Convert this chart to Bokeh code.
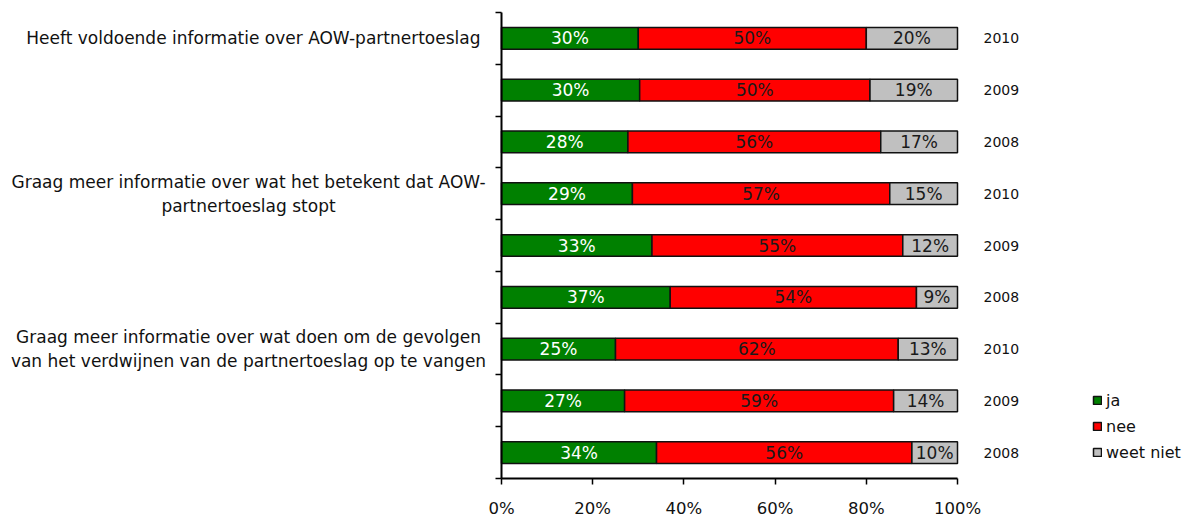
from bokeh.plotting import figure
from bokeh.models import (Range1d, FixedTicker, NumeralTickFormatter, Label,
                          Legend, LegendItem, ColumnDataSource)
from bokeh.core.properties import value
from bokeh.embed import file_html
from bokeh.resources import INLINE

# ---- data ----
years = ["2010", "2009", "2008", "2010", "2009", "2008", "2010", "2009", "2008"]
ja = [30, 30, 28, 29, 33, 37, 25, 27, 34]
nee = [50, 50, 56, 57, 55, 54, 62, 59, 56]
weet_niet = [20, 19, 17, 15, 12, 9, 13, 14, 10]
questions = [
    "Heeft voldoende informatie over AOW-partnertoeslag",
    "Graag meer informatie over wat het betekent dat AOW-\npartnertoeslag stopt",
    "Graag meer informatie over wat doen om de gevolgen\nvan het verdwijnen van de partnertoeslag op te vangen",
]
question_rows = [0, 3, 6]
series_names = ["ja", "nee", "weet niet"]
x_ticks = [0, 0.2, 0.4, 0.6, 0.8, 1.0]

FONT = "DejaVu Sans"
colors = ["#008000", "#FF0000", "#C0C0C0"]
text_colors = ["#FFFFFF", "#1a1a1a", "#1a1a1a"]

W, H = 1191, 516
# plot area (axes box) in canvas pixels
PX0, PX1, PY0, PY1 = 501, 957, 12, 478

n = len(years)
yc = [n - i - 0.5 for i in range(n)]

sx = (PX1 - PX0) / 1.0
sy = (PY1 - PY0) / n
x_range = Range1d(-PX0 / sx, (W - PX0) / sx)
y_range = Range1d(-(H - PY1) / sy, n + PY0 / sy)

p = figure(width=W, height=H, output_backend="svg", toolbar_location=None,
           x_range=x_range, y_range=y_range,
           min_border_left=0, min_border_right=0,
           min_border_top=0, min_border_bottom=0)
p.outline_line_color = None
p.xgrid.visible = False
p.ygrid.visible = False
p.background_fill_color = "white"
p.border_fill_color = "white"

series = [ja, nee, weet_niet]
totals = [a + b + c for a, b, c in zip(ja, nee, weet_niet)]
lefts = [0.0] * n
renderers = []
for s, vals in enumerate(series):
    shares = [v / t for v, t in zip(vals, totals)]
    rights = [l + sh for l, sh in zip(lefts, shares)]
    src = ColumnDataSource(dict(
        y=yc, left=lefts, right=rights,
        mid=[(l + r) / 2 for l, r in zip(lefts, rights)],
        lab=[f"{v}%" for v in vals]))
    r = p.hbar(y="y", left="left", right="right", height=0.42, source=src,
               fill_color=colors[s], line_color="#111111", line_width=1.5)
    renderers.append(r)
    p.text(x="mid", y="y", text="lab", source=src, text_align="center",
           text_baseline="middle", text_font=value(FONT),
           text_font_size="17px", text_color=text_colors[s])
    lefts = rights

# axes (drawn at fixed data locations inside the full-canvas frame)
xa = p.xaxis[0]
xa.fixed_location = 0
xa.bounds = (0, 1)
xa.ticker = FixedTicker(ticks=x_ticks)
xa.formatter = NumeralTickFormatter(format="0%")
xa.axis_line_width = 2
xa.axis_line_color = "black"
xa.major_tick_line_color = "black"
xa.major_tick_line_width = 1.5
xa.major_tick_out = 6
xa.major_tick_in = 0
xa.minor_tick_line_color = None
xa.major_label_text_font = FONT
xa.major_label_text_font_size = "16.5px"
xa.major_label_text_color = "#111111"
xa.major_label_standoff = 14

ya = p.yaxis[0]
ya.fixed_location = 0
ya.bounds = (0, n)
ya.ticker = FixedTicker(ticks=list(range(n + 1)))
ya.axis_line_width = 2
ya.axis_line_color = "black"
ya.major_tick_line_color = "black"
ya.major_tick_line_width = 1.5
ya.major_tick_out = 6
ya.major_tick_in = 0
ya.minor_tick_line_color = None
ya.major_label_text_font_size = "0px"
ya.major_label_text_alpha = 0

# year labels
for i in range(n):
    p.add_layout(Label(x=983, y=yc[i], x_units="screen", y_units="data",
                       text=years[i], text_font=FONT, text_font_size="14px",
                       text_align="left", text_baseline="middle",
                       text_color="#111111"))

# question labels
for q, row in zip(questions, question_rows):
    multi = "\n" in q
    p.add_layout(Label(x=248 if multi else 480, y=yc[row], x_units="screen",
                       y_units="data", text=q, text_font=FONT,
                       text_font_size="17px",
                       text_align="center" if multi else "right",
                       text_baseline="middle", text_color="#111111"))

legend = Legend(items=[LegendItem(label=nm, renderers=[r])
                       for nm, r in zip(series_names, renderers)],
                location=(1092, 54), glyph_width=10, glyph_height=10,
                label_height=20, spacing=6, padding=0, margin=0,
                label_standoff=4, border_line_color=None,
                background_fill_alpha=0,
                label_text_font=FONT, label_text_font_size="16px",
                label_text_color="#111111")
p.add_layout(legend)

open("out.html", "w").write(file_html(p, INLINE))
